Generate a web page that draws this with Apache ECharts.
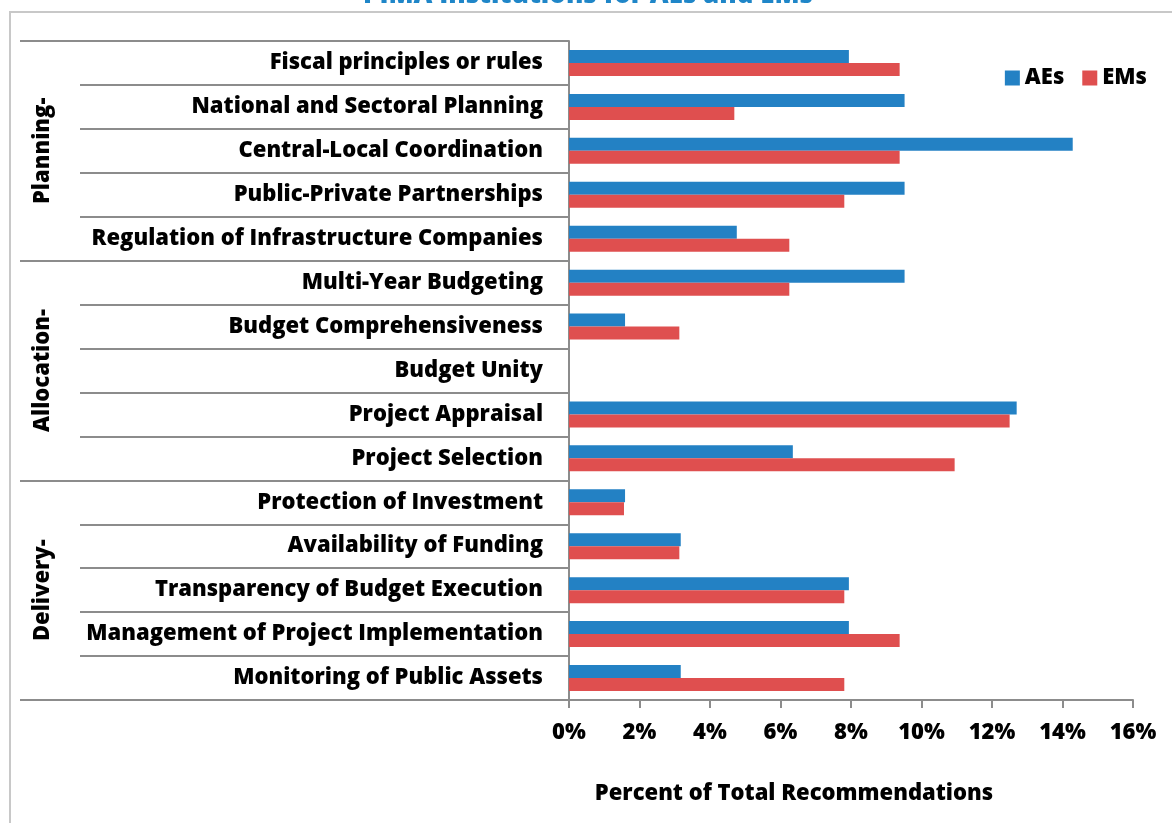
<!DOCTYPE html>
<html>
<head>
<meta charset="utf-8">
<script src="https://cdn.jsdelivr.net/npm/echarts@6/dist/echarts.min.js"></script>
<style>
  html, body { margin: 0; padding: 0; background: #fff; }
  #chart { width: 1172px; height: 823px; }
</style>
</head>
<body>
<div id="chart"></div>
<script>
// categories, top to bottom
const categories = [
  'Fiscal principles or rules',
  'National and Sectoral Planning',
  'Central-Local Coordination',
  'Public-Private Partnerships',
  'Regulation of Infrastructure Companies',
  'Multi-Year Budgeting',
  'Budget Comprehensiveness',
  'Budget Unity',
  'Project Appraisal',
  'Project Selection',
  'Protection of Investment',
  'Availability of Funding',
  'Transparency of Budget Execution',
  'Management of Project Implementation',
  'Monitoring of Public Assets'
];
const groups = ['Planning-', 'Allocation-', 'Delivery-'];

// percent of total recommendations
const aeValues = [7.94, 9.52, 14.29, 9.52, 4.76, 9.52, 1.59, 0, 12.70, 6.35, 1.59, 3.17, 7.94, 7.94, 3.17];
const emValues = [9.38, 4.69, 9.38, 7.81, 6.25, 6.25, 3.13, 0, 12.50, 10.94, 1.56, 3.13, 7.81, 9.38, 7.81];

const xTicks = { min: 0, max: 16, interval: 2 };

const font = "'Open Sans', 'Noto Sans', sans-serif";
const fs = 22;
const fw = 800;
const gridLine = '#8c8c8c';

const chart = echarts.init(document.getElementById('chart'));

chart.setOption({
  animation: false,
  textStyle: { fontFamily: font },
  graphic: [
    {
      type: 'rect',
      shape: { x: 10, y: 12, width: 1200, height: 850 },
      style: { fill: 'none', stroke: '#c8c8c8', lineWidth: 2 },
      silent: true
    },
    {
      type: 'text',
      x: 588,
      y: 9,
      style: {
        text: 'PIMA Institutions for AEs and EMs',
        fontFamily: font,
        fontSize: 26,
        fontWeight: fw,
        fill: '#1f86c8',
        textAlign: 'center',
        textVerticalAlign: 'bottom'
      }
    },
    {
      type: 'text',
      x: 794,
      y: 794,
      style: {
        text: 'Percent of Total Recommendations',
        fontFamily: font,
        fontSize: fs,
        fontWeight: fw,
        fill: '#000',
        textAlign: 'center',
        textVerticalAlign: 'middle'
      }
    }
  ],
  legend: {
    right: 20,
    top: 62,
    icon: 'rect',
    itemWidth: 15,
    itemHeight: 15,
    itemGap: 18,
    textStyle: { fontFamily: font, fontSize: fs, fontWeight: fw, color: '#000' },
    data: ['AEs', 'EMs']
  },
  grid: { left: 569, right: 39, top: 41, bottom: 123, containLabel: false },
  xAxis: {
    type: 'value',
    min: xTicks.min,
    max: xTicks.max,
    interval: xTicks.interval,
    axisLine: { show: true, lineStyle: { color: gridLine, width: 2 } },
    axisTick: { show: true, length: 8, lineStyle: { color: gridLine, width: 2 } },
    splitLine: { show: false },
    axisLabel: {
      formatter: '{value}%',
      margin: 22,
      color: '#000',
      fontSize: fs,
      fontWeight: fw,
      fontFamily: font
    }
  },
  yAxis: [
    {
      type: 'category',
      data: categories,
      inverse: true,
      axisLine: { show: true, lineStyle: { color: gridLine, width: 2 } },
      axisTick: { show: true, length: 489, lineStyle: { color: gridLine, width: 2 } },
      axisLabel: {
        margin: 26,
        color: '#000',
        fontSize: fs,
        fontWeight: fw,
        fontFamily: font
      }
    },
    {
      type: 'category',
      data: groups,
      inverse: true,
      position: 'left',
      axisLine: { show: false },
      axisTick: { show: true, length: 549, lineStyle: { color: gridLine, width: 2 } },
      axisLabel: {
        rotate: 90,
        margin: 515,
        color: '#000',
        fontSize: fs,
        fontWeight: fw,
        fontFamily: font
      }
    }
  ],
  series: [
    {
      name: 'AEs',
      type: 'bar',
      yAxisIndex: 0,
      data: aeValues,
      barWidth: 13,
      barGap: '0%',
      itemStyle: { color: '#2381c4' }
    },
    {
      name: 'EMs',
      type: 'bar',
      yAxisIndex: 0,
      data: emValues,
      barWidth: 13,
      barGap: '0%',
      itemStyle: { color: '#df4f4f' }
    }
  ]
});
</script>
</body>
</html>
